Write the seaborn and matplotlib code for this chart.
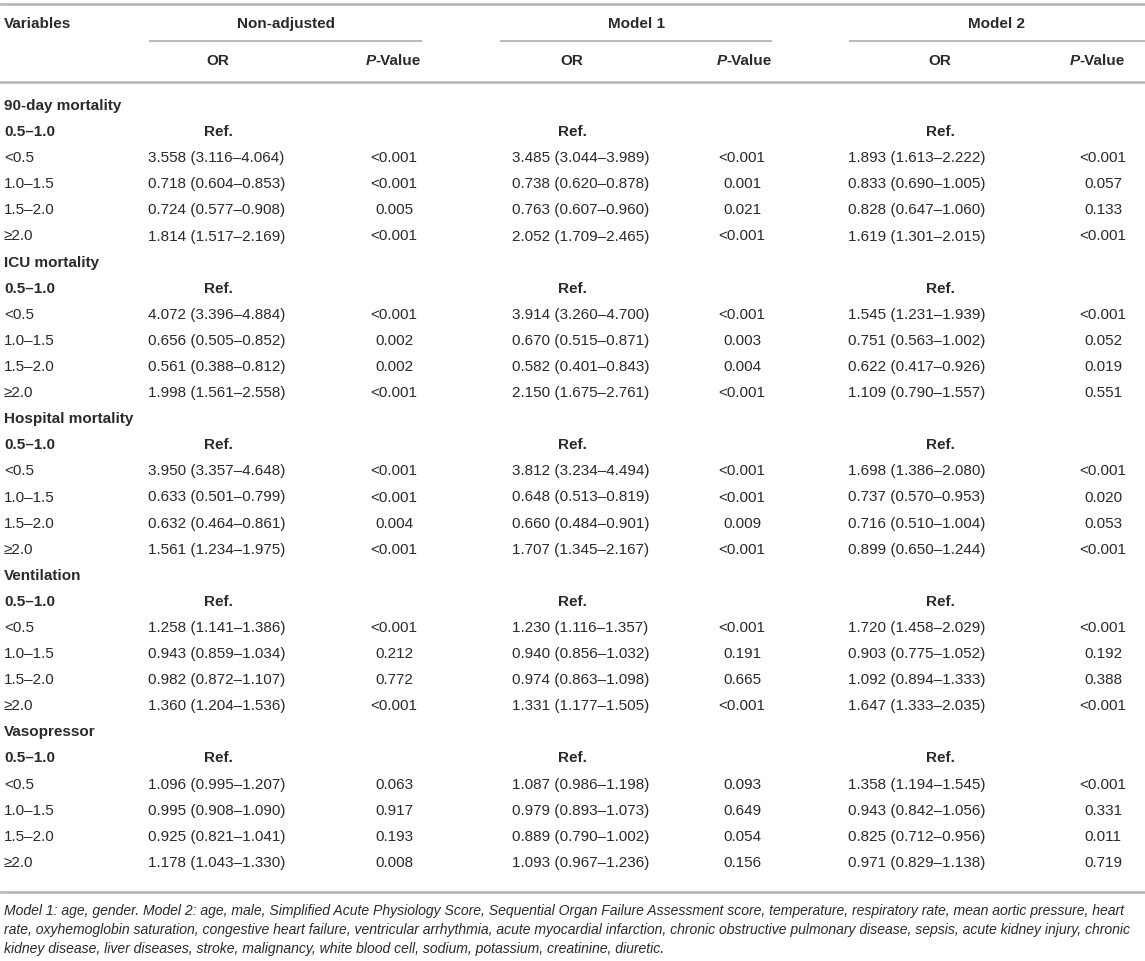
import numpy as np
import pandas as pd
import matplotlib
matplotlib.use("Agg")
import matplotlib.pyplot as plt
import seaborn as sns

outcomes = ["90-day mortality", "ICU mortality", "Hospital mortality", "Ventilation", "Vasopressor"]
ref_group = "0.5–1.0"
groups = ["<0.5", "1.0–1.5", "1.5–2.0", "≥2.0"]
models = ["Non-adjusted", "Model 1", "Model 2"]

# odds ratios, rows = outcome, cols = group
or_nonadj = [[3.558, 0.718, 0.724, 1.814],
             [4.072, 0.656, 0.561, 1.998],
             [3.950, 0.633, 0.632, 1.561],
             [1.258, 0.943, 0.982, 1.360],
             [1.096, 0.995, 0.925, 1.178]]
lo_nonadj = [[3.116, 0.604, 0.577, 1.517],
             [3.396, 0.505, 0.388, 1.561],
             [3.357, 0.501, 0.464, 1.234],
             [1.141, 0.859, 0.872, 1.204],
             [0.995, 0.908, 0.821, 1.043]]
hi_nonadj = [[4.064, 0.853, 0.908, 2.169],
             [4.884, 0.852, 0.812, 2.558],
             [4.648, 0.799, 0.861, 1.975],
             [1.386, 1.034, 1.107, 1.536],
             [1.207, 1.090, 1.041, 1.330]]
p_nonadj = [["<0.001", "<0.001", "0.005", "<0.001"],
            ["<0.001", "0.002", "0.002", "<0.001"],
            ["<0.001", "<0.001", "0.004", "<0.001"],
            ["<0.001", "0.212", "0.772", "<0.001"],
            ["0.063", "0.917", "0.193", "0.008"]]

or_m1 = [[3.485, 0.738, 0.763, 2.052],
         [3.914, 0.670, 0.582, 2.150],
         [3.812, 0.648, 0.660, 1.707],
         [1.230, 0.940, 0.974, 1.331],
         [1.087, 0.979, 0.889, 1.093]]
lo_m1 = [[3.044, 0.620, 0.607, 1.709],
         [3.260, 0.515, 0.401, 1.675],
         [3.234, 0.513, 0.484, 1.345],
         [1.116, 0.856, 0.863, 1.177],
         [0.986, 0.893, 0.790, 0.967]]
hi_m1 = [[3.989, 0.878, 0.960, 2.465],
         [4.700, 0.871, 0.843, 2.761],
         [4.494, 0.819, 0.901, 2.167],
         [1.357, 1.032, 1.098, 1.505],
         [1.198, 1.073, 1.002, 1.236]]
p_m1 = [["<0.001", "0.001", "0.021", "<0.001"],
        ["<0.001", "0.003", "0.004", "<0.001"],
        ["<0.001", "<0.001", "0.009", "<0.001"],
        ["<0.001", "0.191", "0.665", "<0.001"],
        ["0.093", "0.649", "0.054", "0.156"]]

or_m2 = [[1.893, 0.833, 0.828, 1.619],
         [1.545, 0.751, 0.622, 1.109],
         [1.698, 0.737, 0.716, 0.899],
         [1.720, 0.903, 1.092, 1.647],
         [1.358, 0.943, 0.825, 0.971]]
lo_m2 = [[1.613, 0.690, 0.647, 1.301],
         [1.231, 0.563, 0.417, 0.790],
         [1.386, 0.570, 0.510, 0.650],
         [1.458, 0.775, 0.894, 1.333],
         [1.194, 0.842, 0.712, 0.829]]
hi_m2 = [[2.222, 1.005, 1.060, 2.015],
         [1.939, 1.002, 0.926, 1.557],
         [2.080, 0.953, 1.004, 1.244],
         [2.029, 1.052, 1.333, 2.035],
         [1.545, 1.056, 0.956, 1.138]]
p_m2 = [["<0.001", "0.057", "0.133", "<0.001"],
        ["<0.001", "0.052", "0.019", "0.551"],
        ["<0.001", "0.020", "0.053", "<0.001"],
        ["<0.001", "0.192", "0.388", "<0.001"],
        ["<0.001", "0.331", "0.011", "0.719"]]

footnote_lines = [
    "Model 1: age, gender. Model 2: age, male, Simplified Acute Physiology Score, Sequential Organ Failure Assessment score, temperature, respiratory rate, mean aortic pressure, heart",
    "rate, oxyhemoglobin saturation, congestive heart failure, ventricular arrhythmia, acute myocardial infarction, chronic obstructive pulmonary disease, sepsis, acute kidney injury, chronic",
    "kidney disease, liver diseases, stroke, malignancy, white blood cell, sodium, potassium, creatinine, diuretic.",
]

sns.set_theme(style="white")
plt.rcParams["font.family"] = ["Liberation Sans", "DejaVu Sans"]

TXT = "#2a2a2a"
RULE = "#b4b4b4"
FS = 11.0

fig = plt.figure(figsize=(11.45, 9.61), dpi=100)
ax = fig.add_axes([0, 0, 1, 1])
ax.set_xlim(0, 1145)
ax.set_ylim(961, 0)
ax.axis("off")

# column layout for each model block
cols = [
    dict(or_left=148, or_c=218, p_c=394, p_right=421, l0=149, l1=422),
    dict(or_left=512, or_c=572, p_c=742, p_right=772, l0=500, l1=772),
    dict(or_left=848, or_c=940, p_c=1103, p_right=1125, l0=849, l1=1145),
]

# header
ax.axhline(4, color=RULE, lw=1.8)
ax.text(4, 24, "Variables", fontsize=FS, fontweight="bold", color=TXT, va="center")
for name, c in zip(models, cols):
    ax.text((c["l0"] + c["l1"]) / 2, 24, name, fontsize=FS, fontweight="bold",
            color=TXT, va="center", ha="center")
    ax.hlines(41, c["l0"], c["l1"], color=RULE, lw=1.3)
    ax.text(c["or_c"], 61, "OR", fontsize=FS, fontweight="bold", color=TXT,
            va="center", ha="center")
    val = ax.text(c["p_right"], 61, "-Value", fontsize=FS, fontweight="bold",
                  color=TXT, va="center", ha="right")
    ax.annotate("P", xy=(0, 0.5), xycoords=val, fontsize=FS, fontweight="bold",
                style="italic", color=TXT, va="center", ha="right")
ax.axhline(82, color=RULE, lw=1.8)

# body
y0, pitch = 106, 26.1
tables = [(or_nonadj, lo_nonadj, hi_nonadj, p_nonadj),
          (or_m1, lo_m1, hi_m1, p_m1),
          (or_m2, lo_m2, hi_m2, p_m2)]
row = 0
for i, outcome in enumerate(outcomes):
    y = y0 + row * pitch
    ax.text(4, y, outcome, fontsize=FS, fontweight="bold", color=TXT, va="center")
    row += 1
    y = y0 + row * pitch
    ax.text(4, y, ref_group, fontsize=FS, fontweight="bold", color=TXT, va="center")
    for c in cols:
        ax.text(c["or_c"], y, "Ref.", fontsize=FS, fontweight="bold", color=TXT,
                va="center", ha="center")
    row += 1
    for j, g in enumerate(groups):
        y = y0 + row * pitch
        ax.text(4, y, g, fontsize=FS, color=TXT, va="center")
        for (est, lo, hi, pv), c in zip(tables, cols):
            ax.text(c["or_left"], y, f"{est[i][j]:.3f} ({lo[i][j]:.3f}–{hi[i][j]:.3f})",
                    fontsize=FS, color=TXT, va="center")
            ax.text(c["p_c"], y, pv[i][j], fontsize=FS, color=TXT, va="center", ha="center")
        row += 1

ax.axhline(892, color=RULE, lw=1.8)

for k, line in enumerate(footnote_lines):
    ax.text(4, 911 + k * 19, line, fontsize=10.1, style="italic", color=TXT, va="center")

fig.savefig("out.png", dpi=100)
